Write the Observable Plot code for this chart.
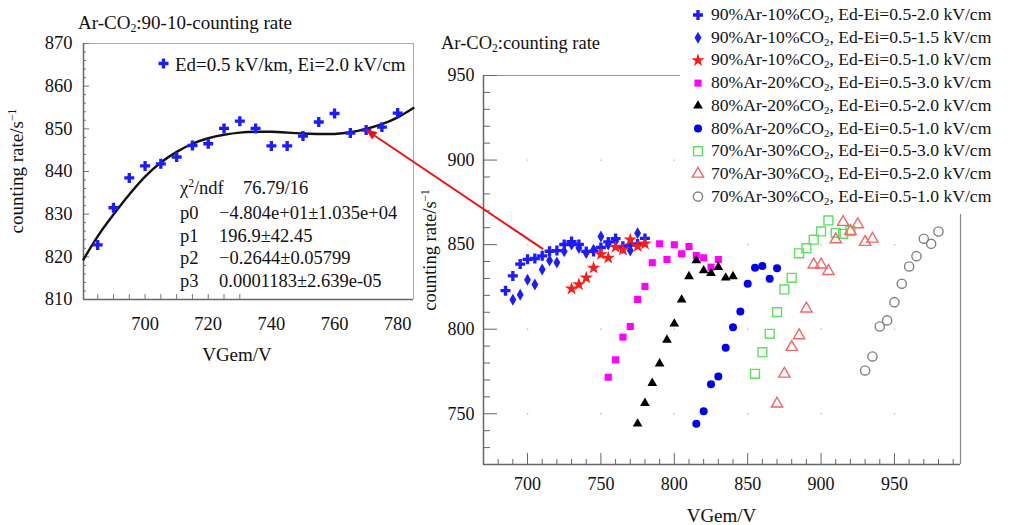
<!DOCTYPE html>
<html><head><meta charset="utf-8">
<script src="https://cdn.jsdelivr.net/npm/d3@7"></script>
<script src="https://cdn.jsdelivr.net/npm/@observablehq/plot@0.6"></script>
<style>
body{margin:0;background:#fff;}
#wrap{position:relative;width:1018px;height:525px;overflow:hidden;font-family:"Liberation Serif","Times New Roman",serif;color:#111;background:#fff;}
.abs{position:absolute;white-space:nowrap;line-height:1;}
sub{font-size:0.62em;vertical-align:-0.28em;line-height:0;}
sup{font-size:0.62em;vertical-align:0.55em;line-height:0;}
</style></head><body><div id="wrap"></div>
<script>
// ---------------- data ----------------
// inset: 90%Ar-10%CO2, Ed=0.5, Ei=2.0 kV/cm
const insetVolt = [685,690,695,700,705,710,715,720,725,730,735,740,745,750,755,760,765,770,775,780];
const insetRate = [822.8,831.5,838.5,841.3,841.8,843.4,846.1,846.5,850.1,851.8,850.1,846.0,846.0,848.3,851.6,853.6,849.0,849.7,850.4,853.7];
// fitted cubic curve
const fitVolt = [680.5,685,690,695,700,705,710,715,720,725,730,735,740,745,750,755,760,765,770,775,780,785];
const fitRate = [819.4,824.8,829.9,834.6,838.8,842.1,844.6,846.5,847.8,848.6,849.1,849.3,849.3,849.1,848.9,848.8,848.8,849.2,850.0,851.1,852.7,854.9];
const insetLegend = "Ed=0.5 kV/km, Ei=2.0 kV/cm";
const statLabels = ["χ<sup>2</sup>/ndf","p0","p1","p2","p3"];
const statValues = ["76.79/16","−4.804e+01±1.035e+04","196.9±42.45","−0.2644±0.05799","0.0001183±2.639e-05"];

// main plot series
const volt_90_20 = insetVolt;
const rate_90_20 = insetRate;
const volt_90_15 = [690,695,700,705,710,715,720,725,730,735,740,745,750,755,760,765,770,775];
const rate_90_15 = [817.4,820.4,829.2,826.4,835.3,840.6,839.4,846.0,850.0,848.0,845.0,847.0,854.8,850.0,852.0,848.0,846.5,856.8];
const volt_90_10 = [730,735,740,745,750,755,760,765,770,775,780];
const rate_90_10 = [823.9,826.4,830.4,836.3,844.2,842.2,848.5,847.0,852.9,849.0,850.5];
const volt_80_30 = [755,760,765,770,775,780,785,790,795,800,805,810,815,820,825,830];
const rate_80_30 = [771.6,781.9,795.3,801.6,817.6,825.3,839.3,850.5,841.2,849.9,844.6,848.9,843.6,842.2,836.7,841.2];
const volt_80_20 = [775,780,785,790,795,800,805,810,815,820,825,830,835,840];
const rate_80_20 = [744.1,756.3,768.1,779.6,793.7,803.2,817.4,831.2,840.6,834.7,833.1,836.7,830.4,831.2];
const volt_80_10 = [815,820,825,830,835,840,845,850,855,860,865,870];
const rate_80_10 = [744.1,751.5,767.5,772.1,789.0,801.2,810.5,826.9,836.3,837.3,829.8,836.1];
const volt_70_30 = [855,860,865,870,875,880,885,890,895,900,905,910,915,920];
const rate_70_30 = [773.6,786.4,797.3,810.1,823.5,830.4,844.9,847.9,852.9,857.8,864.3,857.0,856.4,858.0];
const volt_70_20 = [870,875,880,885,890,895,900,905,910,915,920,925,930,935];
const rate_70_20 = [755.9,773.6,789.4,796.3,812.1,838.1,838.1,834.3,853.0,863.3,858.0,861.9,851.5,853.4];
const volt_70_10 = [930,935,940,945,950,955,960,965,970,975,980];
const rate_70_10 = [775.6,783.9,801.6,805.2,816.0,826.9,837.1,843.2,853.5,850.5,857.8];

const seriesLabels = [
  "90%Ar-10%CO<sub>2</sub>, Ed-Ei=0.5-2.0 kV/cm",
  "90%Ar-10%CO<sub>2</sub>, Ed-Ei=0.5-1.5 kV/cm",
  "90%Ar-10%CO<sub>2</sub>, Ed-Ei=0.5-1.0 kV/cm",
  "80%Ar-20%CO<sub>2</sub>, Ed-Ei=0.5-3.0 kV/cm",
  "80%Ar-20%CO<sub>2</sub>, Ed-Ei=0.5-2.0 kV/cm",
  "80%Ar-20%CO<sub>2</sub>, Ed-Ei=0.5-1.0 kV/cm",
  "70%Ar-30%CO<sub>2</sub>, Ed-Ei=0.5-3.0 kV/cm",
  "70%Ar-30%CO<sub>2</sub>, Ed-Ei=0.5-2.0 kV/cm",
  "70%Ar-30%CO<sub>2</sub>, Ed-Ei=0.5-1.0 kV/cm"
];
const seriesVolt = [volt_90_20,volt_90_15,volt_90_10,volt_80_30,volt_80_20,volt_80_10,volt_70_30,volt_70_20,volt_70_10];
const seriesRate = [rate_90_20,rate_90_15,rate_90_10,rate_80_30,rate_80_20,rate_80_10,rate_70_30,rate_70_20,rate_70_10];
const seriesSymbol = ["cross","diamond","star","square","triangle","circle","square","triangle","circle"];
const seriesColor = ["#1c1cff","#1c1cff","#ff1a1a","#ff00ff","#000000","#0000f0","#5ee05e","#f26666","#808080"];
const seriesFilled = [true,true,true,true,true,true,false,false,false];
const seriesR = [4.2,3.6,4.2,4.0,3.6,4.0,5.0,4.2,4.6];

const mainXTicks = [700,750,800,850,900,950];
const mainYTicks = [750,800,850,900,950];
const insetXTicks = [700,720,740,760,780];
const insetYTicks = [810,820,830,840,850,860,870];
const arrowFrom = {volt: 711, rate: 847};   // main plot
const arrowTo = {volt: 770, rate: 849.7};   // inset point

// ---------------- layout ----------------
const W = 1018, H = 525;
const FONT = '"Liberation Serif","Times New Roman",serif';
const wrap = document.getElementById("wrap");

const M = {l: 483, r: 58, t: 75, b: 61};
const mInW = W - M.l - M.r, mInH = H - M.t - M.b;
const mainXDom = [670, 995], mainYDom = [720, 950];
const range = (a, b, s) => d3.range(a, b + s / 2, s);
const mainXMinor = range(680, 990, 10).filter(v => !mainXTicks.includes(v));
const mainYMinor = range(730, 940, 10).filter(v => !mainYTicks.includes(v));
const gridPts = d3.cross(mainXTicks, mainYTicks.filter(v => v < 950)).map(([x, y]) => ({x, y}));

const seriesMarks = seriesVolt.map((vs, i) => {
  const data = vs.map((v, j) => ({v, r: seriesRate[i][j]}));
  return Plot.dot(data, seriesFilled[i]
    ? {x: "v", y: "r", symbol: seriesSymbol[i], fill: seriesColor[i], stroke: "none", r: seriesR[i]}
    : {x: "v", y: "r", symbol: seriesSymbol[i], fill: "none", stroke: seriesColor[i], strokeWidth: 1.4, r: seriesR[i]});
});

const mainPlot = Plot.plot({
  width: W, height: H,
  marginLeft: M.l, marginRight: M.r, marginTop: M.t, marginBottom: M.b,
  x: {domain: mainXDom, ticks: mainXTicks, tickSize: 0, tickPadding: 13, label: null},
  y: {domain: mainYDom, ticks: mainYTicks, tickSize: 0, tickPadding: 9, label: null},
  style: {fontFamily: FONT, fontSize: "18px", background: "transparent", color: "#111", overflow: "visible"},
  marks: [
    Plot.dot(gridPts, {x: "x", y: "y", r: 0.9, fill: "#c8c8c8"}),
    Plot.ruleY([mainYDom[1]], {stroke: "#999", strokeWidth: 1}),
    Plot.ruleX([mainXDom[1]], {stroke: "#888", strokeWidth: 1.2}),
    Plot.ruleX(mainXMinor, {stroke: "#666", insetTop: mInH - 5}),
    Plot.ruleX(mainXTicks, {stroke: "#666", insetTop: mInH - 11}),
    Plot.ruleY(mainYMinor, {stroke: "#666", insetRight: mInW - 7}),
    Plot.ruleY(mainYTicks, {stroke: "#666", insetRight: mInW - 14}),
    Plot.ruleX([mainXDom[0]], {stroke: "#666", strokeWidth: 1.5}),
    Plot.ruleY([mainYDom[0]], {stroke: "#666", strokeWidth: 1.5}),
    ...seriesMarks
  ]
});

const I = {l: 83, r: 605, t: 43, b: 226};
const iInW = W - I.l - I.r, iInH = H - I.t - I.b;
const insetXDom = [680.5, 785], insetYDom = [810, 870];
const insetYMinor = range(812, 868, 2).filter(v => !insetYTicks.includes(v));
const insetXMinor = range(685, 730, 5);
const insetData = insetVolt.map((v, j) => ({v, r: insetRate[j]}));
const fitData = fitVolt.map((v, j) => ({v, r: fitRate[j]}));

const insetPlot = Plot.plot({
  width: W, height: H,
  marginLeft: I.l, marginRight: I.r, marginTop: I.t, marginBottom: I.b,
  x: {domain: insetXDom, ticks: insetXTicks, tickSize: 0, tickPadding: 17, label: null},
  y: {domain: insetYDom, ticks: insetYTicks, tickSize: 0, tickPadding: 11, label: null},
  style: {fontFamily: FONT, fontSize: "18.5px", background: "transparent", color: "#111", overflow: "visible"},
  marks: [
    Plot.ruleY([insetYDom[1]], {stroke: "#aaa"}),
    Plot.ruleX([insetXDom[1]], {stroke: "#aaa"}),
    Plot.ruleY(insetYMinor, {stroke: "#777", insetRight: iInW - 3}),
    Plot.ruleY(insetYTicks, {stroke: "#777", insetRight: iInW - 6}),
    Plot.ruleX(insetXMinor, {stroke: "#777", insetTop: iInH - 5}),
    Plot.ruleX([insetXDom[0]], {stroke: "#666", strokeWidth: 1.5}),
    Plot.ruleY([insetYDom[0]], {stroke: "#666", strokeWidth: 1.5}),
    Plot.line(fitData, {x: "v", y: "r", curve: "natural", stroke: "#111", strokeWidth: 2.4}),
    Plot.dot(insetData, {x: "v", y: "r", symbol: "cross", fill: "#1c1cff", r: 4.2})
  ]
});

for (const p of [mainPlot, insetPlot]) {
  p.style.position = "absolute"; p.style.left = "0px"; p.style.top = "0px";
  wrap.appendChild(p);
}

function addText(html, x, y, size, extra = {}) {
  const d = document.createElement("div");
  d.className = "abs";
  d.innerHTML = html;
  Object.assign(d.style, {left: x + "px", top: y + "px", fontSize: size + "px", transform: "translateY(-50%)"}, extra);
  wrap.appendChild(d);
  return d;
}
function addCentered(html, x, y, size, rotate = 0) {
  return addText(html, x, y, size, {transform: `translate(-50%,-50%) rotate(${rotate}deg)`});
}

// inset texts
addText("Ar-CO<sub>2</sub>:90-10-counting rate", 78, 22, 19);
addText(insetLegend, 175, 63.5, 19);
const statY = [188, 213, 235.5, 258, 280.5];
statLabels.forEach((t, i) => {
  addText(t, 180, statY[i], 18.5);
  addText(statValues[i], i === 0 ? 243 : 219, statY[i], 18.5);
});
addCentered("counting rate/s<sup>−1</sup>", 16, 171, 19, -90);
addCentered("VGem/V", 237, 353.5, 19);

// main texts
addText("Ar-CO<sub>2</sub>:counting rate", 441, 43, 18.5);
addCentered("counting rate/s<sup>−1</sup>", 430, 250, 18.5, -90);
addCentered("VGem/V", 721.5, 515, 19);

// legend box (white, covers frame)
const box = document.createElement("div");
Object.assign(box.style, {position: "absolute", left: "680px", top: "0px", width: (W - 680) + "px", height: "214px", background: "#fff"});
wrap.appendChild(box);
const legY = seriesLabels.map((_, i) => 15 + 22.7 * i);
seriesLabels.forEach((t, i) => addText(t, 711, legY[i], 17.6));

// overlay: arrow + legend markers
const svg = d3.create("svg").attr("width", W).attr("height", H)
  .style("position", "absolute").style("left", "0px").style("top", "0px").style("overflow", "visible");
const mx = mainPlot.scale("x"), my = mainPlot.scale("y");
const ix = insetPlot.scale("x"), iy = insetPlot.scale("y");
const x0 = mx.apply(arrowFrom.volt), y0 = my.apply(arrowFrom.rate);
const x1 = ix.apply(arrowTo.volt), y1 = iy.apply(arrowTo.rate);
const ang = Math.atan2(y1 - y0, x1 - x0);
const hl = 11, hw = 4.5;
const bx = x1 - hl * Math.cos(ang), by = y1 - hl * Math.sin(ang);
svg.append("line").attr("x1", x0).attr("y1", y0).attr("x2", bx).attr("y2", by)
  .attr("stroke", "#ee1111").attr("stroke-width", 2);
svg.append("polygon").attr("fill", "#ee1111").attr("points", [
  [x1, y1],
  [bx + hw * Math.sin(ang), by - hw * Math.cos(ang)],
  [bx - hw * Math.sin(ang), by + hw * Math.cos(ang)]
].map(p => p.join(",")).join(" "));

const symMap = {cross: d3.symbolCross, diamond: d3.symbolDiamond, star: d3.symbolStar, square: d3.symbolSquare, triangle: d3.symbolTriangle, circle: d3.symbolCircle};
seriesLabels.forEach((_, i) => {
  const r = seriesR[i];
  const path = d3.symbol(symMap[seriesSymbol[i]], Math.PI * r * r)();
  const g = svg.append("path").attr("d", path).attr("transform", `translate(698,${legY[i]})`);
  if (seriesFilled[i]) g.attr("fill", seriesColor[i]);
  else g.attr("fill", "none").attr("stroke", seriesColor[i]).attr("stroke-width", 1.4);
});
svg.append("path").attr("d", d3.symbol(d3.symbolCross, Math.PI * 4.2 * 4.2)())
  .attr("transform", "translate(163.5,63.5)").attr("fill", "#1c1cff");
wrap.appendChild(svg.node());
</script></body></html>
